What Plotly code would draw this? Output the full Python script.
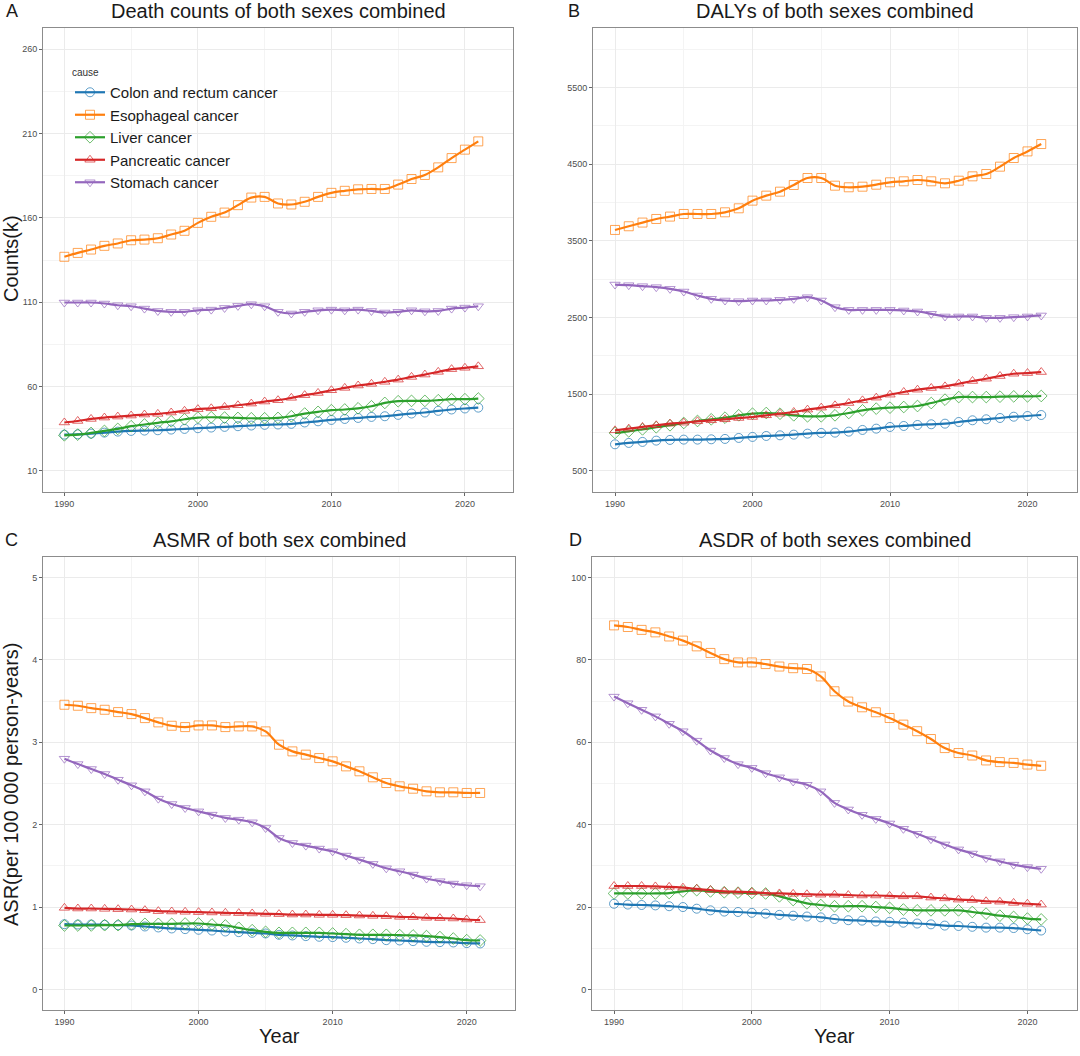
import plotly.graph_objects as go

years = list(range(1990, 2022))
causes = ["Colon and rectum cancer", "Esophageal cancer", "Liver cancer",
          "Pancreatic cancer", "Stomach cancer"]
colors = ["#1F77B4", "#FF7F0E", "#2CA02C", "#D62728", "#9467BD"]
marker_colors = ["rgba(31,119,180,0.7)", "rgba(255,127,14,0.7)", "rgba(44,160,44,0.7)",
                 "rgba(214,39,40,0.7)", "rgba(148,103,189,0.7)"]
symbols = ["circle-open", "square-open", "diamond-open", "triangle-up-open", "triangle-down-open"]

# Panel A: Death counts (k)
deaths_colon = [31.5, 31.7, 32.1, 32.7, 33.3, 33.7, 33.9, 34.1, 34.5, 34.9, 35.3, 35.7, 36.1, 36.5, 36.9, 37.3,
                37.5, 37.9, 38.7, 39.4, 40.2, 40.8, 41.4, 42.0, 42.4, 43.2, 44.0, 44.6, 45.6, 46.4, 47.0, 47.5]
deaths_esoph = [136.9, 139.2, 141.2, 143.4, 144.8, 146.7, 147.1, 147.9, 150.1, 152.3, 157.0, 160.6, 163.1, 167.5,
                172.0, 172.4, 168.5, 167.9, 169.5, 172.4, 174.8, 176.0, 176.9, 177.1, 177.1, 179.7, 183.0, 185.4,
                189.9, 195.4, 200.4, 205.3]
deaths_liver = [31.1, 31.5, 32.5, 33.7, 34.9, 36.5, 37.5, 38.5, 39.4, 40.6, 41.6, 41.8, 41.6, 41.4, 41.2, 41.2,
                41.4, 42.4, 44.0, 45.0, 46.0, 46.4, 47.1, 48.3, 50.3, 51.3, 51.5, 51.5, 51.9, 52.5, 52.5, 52.9]
deaths_pancr = [38.7, 39.6, 40.8, 41.6, 42.2, 42.8, 43.4, 43.8, 44.6, 45.6, 46.6, 47.1, 47.9, 48.9, 49.9, 51.1,
                51.9, 53.3, 54.9, 56.2, 57.8, 59.2, 60.6, 61.6, 62.8, 64.1, 65.7, 67.1, 68.7, 70.3, 71.1, 72.0]
deaths_stom = [109.8, 109.8, 109.8, 109.2, 108.2, 107.6, 106.2, 104.8, 104.3, 104.3, 105.2, 105.6, 106.6, 107.8,
               108.8, 107.6, 104.3, 103.3, 104.3, 105.2, 105.6, 105.2, 105.6, 104.8, 103.9, 104.3, 105.2, 104.6,
               104.8, 106.2, 106.8, 107.6]

# Panel B: DALYs (k)
dalys_colon = [847, 865, 878, 895, 904, 908, 908, 912, 917, 930, 943, 956, 964, 973, 986, 995,
               999, 1012, 1034, 1051, 1073, 1086, 1099, 1108, 1116, 1138, 1160, 1173, 1190, 1207, 1216, 1229]
dalys_esoph = [3642, 3690, 3738, 3785, 3816, 3850, 3850, 3850, 3872, 3924, 4024, 4089, 4141, 4228, 4319, 4319,
               4219, 4198, 4206, 4232, 4263, 4276, 4293, 4276, 4250, 4284, 4341, 4371, 4467, 4580, 4666, 4762]
dalys_liver = [995, 1016, 1042, 1069, 1095, 1125, 1151, 1173, 1194, 1225, 1246, 1255, 1246, 1225, 1212, 1212,
               1225, 1255, 1290, 1312, 1325, 1333, 1346, 1385, 1429, 1463, 1463, 1463, 1468, 1472, 1472, 1477]
dalys_pancr = [1029, 1051, 1073, 1095, 1116, 1129, 1147, 1160, 1173, 1190, 1203, 1225, 1246, 1268, 1299, 1325,
               1355, 1385, 1420, 1455, 1494, 1529, 1559, 1581, 1602, 1637, 1672, 1702, 1737, 1767, 1776, 1789]
dalys_stom = [2930, 2922, 2909, 2896, 2874, 2839, 2787, 2744, 2722, 2713, 2722, 2722, 2731, 2744, 2765, 2722,
              2635, 2600, 2600, 2600, 2600, 2592, 2579, 2548, 2514, 2514, 2514, 2496, 2496, 2505, 2514, 2527]

# Panel C: ASMR
asmr_colon = [0.792, 0.788, 0.788, 0.784, 0.780, 0.776, 0.764, 0.752, 0.740, 0.732, 0.724, 0.715, 0.703, 0.695,
              0.687, 0.679, 0.663, 0.655, 0.647, 0.639, 0.635, 0.627, 0.618, 0.610, 0.598, 0.594, 0.586, 0.578,
              0.574, 0.570, 0.562, 0.558]
asmr_esoph = [3.456, 3.444, 3.415, 3.395, 3.367, 3.343, 3.294, 3.242, 3.201, 3.185, 3.205, 3.205, 3.185, 3.193,
              3.193, 3.133, 2.971, 2.890, 2.850, 2.809, 2.769, 2.708, 2.648, 2.575, 2.506, 2.466, 2.437, 2.405,
              2.393, 2.393, 2.385, 2.385]
asmr_liver = [0.776, 0.776, 0.776, 0.780, 0.780, 0.792, 0.796, 0.796, 0.796, 0.800, 0.800, 0.788, 0.776, 0.748,
              0.719, 0.699, 0.687, 0.687, 0.687, 0.687, 0.679, 0.671, 0.663, 0.663, 0.663, 0.659, 0.655, 0.647,
              0.635, 0.618, 0.598, 0.594]
asmr_pancr = [0.990, 0.982, 0.982, 0.978, 0.974, 0.970, 0.962, 0.950, 0.946, 0.942, 0.938, 0.934, 0.930, 0.926,
              0.922, 0.918, 0.914, 0.909, 0.909, 0.905, 0.905, 0.901, 0.897, 0.893, 0.889, 0.881, 0.877, 0.869,
              0.865, 0.861, 0.849, 0.841]
asmr_stom = [2.801, 2.736, 2.676, 2.615, 2.546, 2.478, 2.405, 2.316, 2.251, 2.203, 2.162, 2.122, 2.082, 2.061,
             2.029, 1.960, 1.839, 1.778, 1.746, 1.710, 1.677, 1.625, 1.576, 1.524, 1.471, 1.435, 1.394, 1.346,
             1.314, 1.285, 1.265, 1.253]

# Panel D: ASDR
asdr_colon = [20.8, 20.6, 20.5, 20.4, 20.2, 20.0, 19.6, 19.2, 18.9, 18.8, 18.6, 18.4, 18.1, 17.9, 17.7, 17.5,
              17.1, 16.8, 16.7, 16.5, 16.4, 16.2, 16.0, 15.8, 15.5, 15.4, 15.2, 15.0, 15.0, 14.9, 14.6, 14.3]
asdr_esoph = [88.4, 88.0, 87.3, 86.7, 85.7, 84.7, 83.3, 81.7, 80.2, 79.4, 79.4, 79.0, 78.4, 78.0, 77.8, 76.0,
              72.4, 69.9, 68.5, 67.3, 65.9, 64.3, 62.7, 60.8, 58.6, 57.4, 56.8, 55.6, 55.2, 55.0, 54.6, 54.3]
asdr_liver = [23.3, 23.3, 23.3, 23.3, 23.4, 23.8, 24.1, 23.8, 23.6, 23.5, 23.4, 23.3, 22.6, 21.7, 20.9, 20.5,
              20.2, 20.2, 20.2, 20.0, 19.8, 19.4, 19.2, 19.2, 19.2, 19.2, 18.8, 18.4, 17.9, 17.6, 17.2, 17.0]
asdr_pancr = [25.1, 25.1, 25.1, 25.0, 24.9, 24.7, 24.4, 24.1, 23.8, 23.7, 23.6, 23.4, 23.3, 23.2, 23.1, 23.0,
              23.0, 22.9, 22.8, 22.8, 22.7, 22.6, 22.6, 22.3, 22.1, 21.8, 21.7, 21.4, 21.3, 21.0, 20.8, 20.6]
asdr_stom = [71.1, 69.5, 67.9, 66.3, 64.5, 62.7, 60.4, 58.0, 56.2, 54.7, 53.8, 52.5, 51.5, 50.5, 49.7, 48.1,
             45.3, 43.7, 42.4, 41.4, 40.3, 39.0, 37.8, 36.5, 35.2, 34.0, 33.0, 31.9, 31.1, 30.3, 29.7, 29.3]

panels = [
    [deaths_colon, deaths_esoph, deaths_liver, deaths_pancr, deaths_stom],
    [dalys_colon, dalys_esoph, dalys_liver, dalys_pancr, dalys_stom],
    [asmr_colon, asmr_esoph, asmr_liver, asmr_pancr, asmr_stom],
    [asdr_colon, asdr_esoph, asdr_liver, asdr_pancr, asdr_stom],
]
titles = ["Death counts of both sexes combined", "DALYs of both sexes combined",
          "ASMR of both sex combined", "ASDR of both sexes combined"]
letters = ["A", "B", "C", "D"]

W, H = 1080, 1056


def px(x):
    return x / W


def py(y):
    return 1 - y / H


# plot area boxes in page pixels (left, right, top, bottom)
boxes = [(43, 513, 28, 492), (593, 1077, 28, 492), (43, 515, 557, 1010), (592, 1077, 557, 1010)]
letter_x = [4, 566, 3, 567]
yranges = [[-2.5, 272.5], [225, 6275], [-0.25, 5.25], [-5, 105]]
ytick0 = [10, 500, 0, 0]
ydtick = [50, 1000, 1, 20]
xrange_ = [1988.4, 2023.6]

FONT = "Liberation Sans, Arial, sans-serif"
TICKC = "#4D4D4D"
GRID = "#EBEBEB"
MINOR = "#F4F4F4"
BORDER = "#8C8C8C"
TXT = "#1A1A1A"

fig = go.Figure()
layout = {}
annotations = []
for i in range(4):
    l, r, t, b = boxes[i]
    xa = "xaxis" if i == 0 else f"xaxis{i+1}"
    ya = "yaxis" if i == 0 else f"yaxis{i+1}"
    xref = "x" if i == 0 else f"x{i+1}"
    yref = "y" if i == 0 else f"y{i+1}"
    layout[xa] = dict(domain=[px(l), px(r)], range=xrange_, anchor=yref, tick0=1990, dtick=10,
                      showgrid=True, gridcolor=GRID, gridwidth=1,
                      minor=dict(tick0=1995, dtick=10, showgrid=True, gridcolor=MINOR, gridwidth=0.7),
                      ticks="outside", ticklen=3, tickcolor="#666666", tickwidth=0.8,
                      tickfont=dict(family=FONT, size=9, color=TICKC),
                      showline=True, linecolor=BORDER, linewidth=1, mirror=True, zeroline=False)
    y_minor0 = ytick0[i] + ydtick[i] / 2
    layout[ya] = dict(domain=[py(b), py(t)], range=yranges[i], anchor=xref, tick0=ytick0[i], dtick=ydtick[i],
                      showgrid=True, gridcolor=GRID, gridwidth=1,
                      minor=dict(tick0=y_minor0, dtick=ydtick[i], showgrid=True, gridcolor=MINOR, gridwidth=0.7),
                      ticks="outside", ticklen=3, tickcolor="#666666", tickwidth=0.8,
                      tickfont=dict(family=FONT, size=9, color=TICKC),
                      showline=True, linecolor=BORDER, linewidth=1, mirror=True, zeroline=False)
    for k in range(5):
        fig.add_trace(go.Scatter(
            x=years, y=panels[i][k], name=causes[k], legendgroup=causes[k], showlegend=(i == 0),
            mode="lines+markers", xaxis=xref, yaxis=yref,
            line=dict(color=colors[k], width=2.2, shape="spline", smoothing=1.0),
            marker=dict(symbol=symbols[k], size=9, color=marker_colors[k],
                        line=dict(width=1, color=marker_colors[k])),
        ))
    annotations.append(dict(text=titles[i], x=px((l + r) / 2), y=py(t - 17), xref="paper", yref="paper",
                            showarrow=False, xanchor="center", yanchor="middle",
                            font=dict(family=FONT, size=20, color=TXT)))
    annotations.append(dict(text=letters[i], x=px(letter_x[i]), y=py(t - 17), xref="paper", yref="paper",
                            showarrow=False, xanchor="left", yanchor="middle",
                            font=dict(family=FONT, size=18, color=TXT)))

annotations.append(dict(text="Counts(k)", x=px(11), y=py(259), xref="paper", yref="paper", textangle=-90,
                        showarrow=False, xanchor="center", yanchor="middle",
                        font=dict(family=FONT, size=20, color=TXT)))
annotations.append(dict(text="ASR(per 100 000 person-years)", x=px(11), y=py(785), xref="paper", yref="paper",
                        textangle=-90, showarrow=False, xanchor="center", yanchor="middle",
                        font=dict(family=FONT, size=20, color=TXT)))
annotations.append(dict(text="Year", x=px((43 + 515) / 2), y=py(1036), xref="paper", yref="paper",
                        showarrow=False, xanchor="center", yanchor="middle",
                        font=dict(family=FONT, size=20, color=TXT)))
annotations.append(dict(text="Year", x=px((592 + 1077) / 2), y=py(1036), xref="paper", yref="paper",
                        showarrow=False, xanchor="center", yanchor="middle",
                        font=dict(family=FONT, size=20, color=TXT)))

fig.update_layout(
    width=W, height=H, margin=dict(l=0, r=0, t=0, b=0),
    paper_bgcolor="white", plot_bgcolor="white",
    annotations=annotations,
    legend=dict(x=px(70), y=py(63), xanchor="left", yanchor="top", bgcolor="rgba(255,255,255,0)",
                title=dict(text="cause", font=dict(family=FONT, size=10, color="#333333")),
                font=dict(family=FONT, size=15, color=TXT), tracegroupgap=0, itemwidth=30),
    **layout,
)
fig.write_html("out.html", config={"displayModeBar": False},
               post_script="document.body.style.margin='0px';document.body.style.padding='0px';")
